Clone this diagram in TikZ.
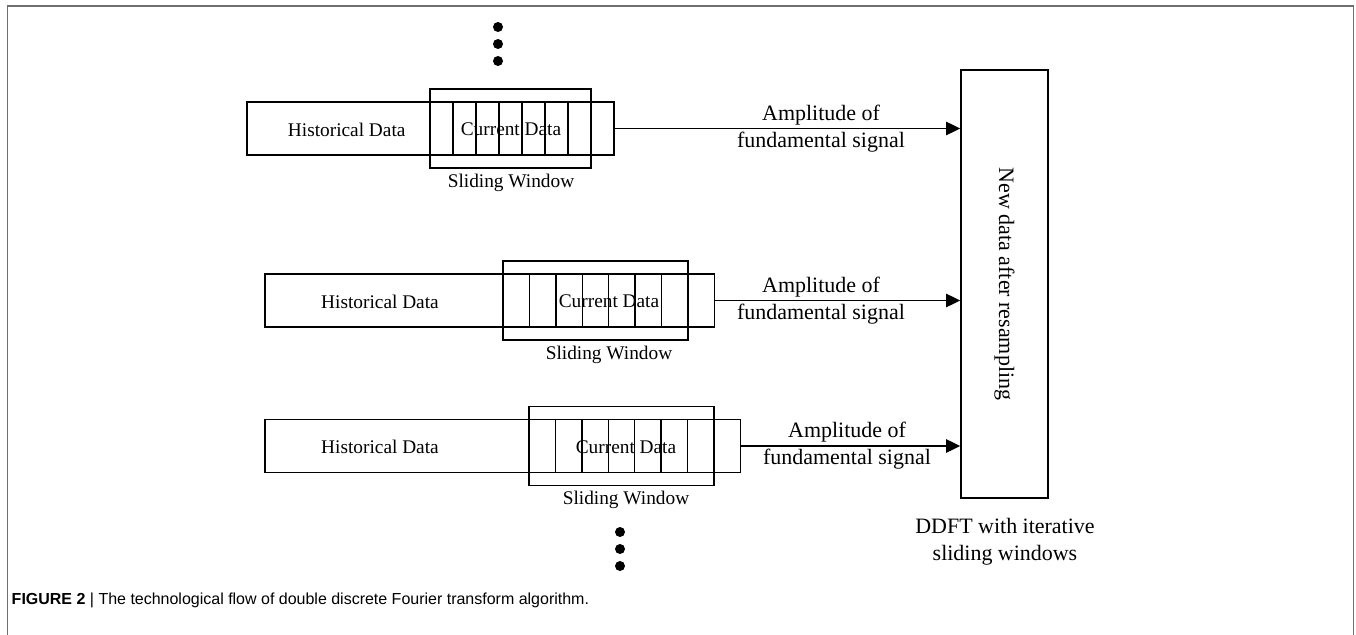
\documentclass[tikz,border=0pt]{standalone}
\usepackage{fontspec}
\setmainfont{Liberation Serif}
\newfontfamily\capfont{Liberation Sans}
\usetikzlibrary{arrows.meta}
\definecolor{framegray}{HTML}{707070}

\begin{document}
\begin{tikzpicture}[x=0.02cm, y=-0.02cm, line width=0.85pt,
	box/.style={draw, rectangle, inner sep=0pt},
	txt/.style={font=\fontsize{11}{15.4}\selectfont, inner sep=0pt},
	amp/.style={font=\fontsize{12.5}{15.4}\selectfont, align=center, inner sep=0pt},
	flow/.style={-{Triangle[length=8pt,width=7.5pt]}, line width=1.1pt},
	dot/.style={circle, fill, inner sep=0pt, minimum size=0.2cm}]
	\useasboundingbox (0,0) rectangle (1356,635);
	% outer frame, open at the bottom
	\draw[framegray, line width=0.85pt] (7.5,635) -- (7.5,6) -- (1353.5,6) -- (1353.5,635);

	% resampled data block on the right
	\node[box, minimum width=1.74cm, minimum height=8.56cm] (rsmp) at (1004.5,284) {};
	\node[amp, rotate=-90] (rsmptxt) at (rsmp.center) {New data after resampling};
	\node[amp] (ddft) at (1005,542) {DDFT with iterative\\sliding windows};

	% one row per window position: n / data left / window left / cell width / y / hist x / curr x / label x
	\foreach \n/\xa/\xw/\cw/\y/\hx/\cx/\lx in {1/247/430/23/128.5/346.7/511/821,
		2/265/503/26.43/300.5/380/609/821,
		3/265/529/26.43/446/380/626/847} {
		\pgfmathsetmacro{\xb}{\xw+8*\cw}
		\pgfmathsetmacro{\xc}{\xw+7*\cw}
		\draw (\xa,\y-26.5) rectangle (\xb,\y+26.5);
		\node[inner sep=0pt] (hist\n) at ({(\xa+\xb)/2},\y) {};
		\coordinate (out\n) at (\xb,\y);
		\foreach \k in {1,...,7}
			\draw (\xw+\k*\cw,\y-26.5) -- (\xw+\k*\cw,\y+26.5);
		\draw (\xw,\y-39.5) rectangle (\xc,\y+39.5);
		\node[txt] (hd\n) at (\hx,\y+1) {Historical Data};
		\node[txt] (cd\n) at (\cx,\y+1) {Current Data};
		\node[txt] (sw\n) at (\cx,\y+54) {Sliding Window};
		\draw[flow] (out\n) -- (out\n -| rsmp.west);
		\node[amp] (amp\n) at (\lx,\y) {Amplitude of\\fundamental signal};
	}

	% more windows above and below
	\foreach \yy [count=\i] in {27,44,61}
		\node[dot] (up\i) at (498,\yy) {};
	\foreach \yy [count=\i] in {532,549,566}
		\node[dot] (dn\i) at (620,\yy) {};

	\node[anchor=west, inner sep=0pt, font=\capfont\fontsize{9.1}{11}\selectfont] (cap) at (11,600)
		{\textbf{FIGURE 2} | The technological flow of double discrete Fourier transform algorithm.};
\end{tikzpicture}
\end{document}
